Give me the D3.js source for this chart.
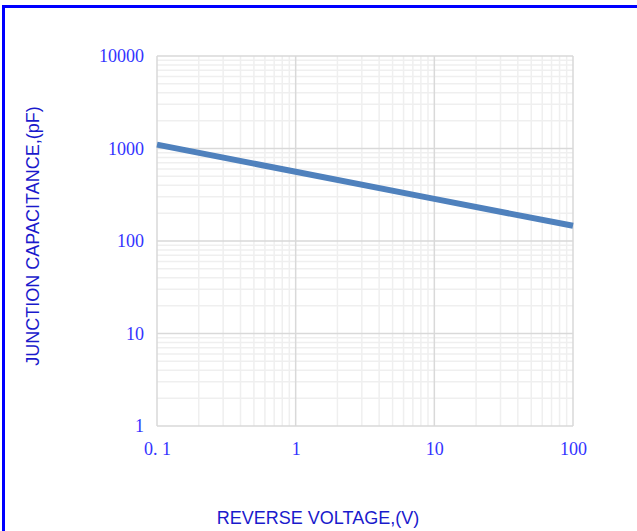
<!DOCTYPE html>
<html>
<head>
<meta charset="utf-8">
<script src="https://cdn.jsdelivr.net/npm/d3@7"></script>
<style>
  html, body { margin: 0; padding: 0; background: #fff; }
  svg { display: block; }
</style>
</head>
<body>
<div id="chart"></div>
<script>
  'use strict';

  // reverse voltage (V) and junction capacitance (pF)
  var voltage = [0.1, 1, 10, 100];
  var capacitance = [1100, 560, 285, 146];
  var x_ticks = [0.1, 1, 10, 100];
  var x_tick_labels = ['0. 1', '1', '10', '100'];
  var y_ticks = [1, 10, 100, 1000, 10000];
  var y_tick_labels = ['1', '10', '100', '1000', '10000'];

  var svg_width = 637;
  var svg_height = 531;
  var margin = { left: 157, right: 64, top: 56, bottom: 105 };
  var plot_w = svg_width - margin.left - margin.right;
  var plot_h = svg_height - margin.top - margin.bottom;

  var svg = d3.select('#chart').append('svg')
    .attr('width', svg_width)
    .attr('height', svg_height);

  // blue frame (top and left only)
  svg.append('path')
    .attr('d', 'M3.5,' + svg_height + 'V6.5H' + svg_width)
    .attr('fill', 'none')
    .attr('stroke', '#0000ff')
    .attr('stroke-width', 3);

  var x = d3.scaleLog().domain([0.1, 100]).range([0, plot_w]);
  var y = d3.scaleLog().domain([1, 10000]).range([plot_h, 0]);

  var g = svg.append('g')
    .attr('transform', 'translate(' + margin.left + ',' + margin.top + ')');

  function minors(domain) {
    var out = [];
    var lo = Math.log10(domain[0]), hi = Math.log10(domain[1]);
    for (var e = lo; e < hi; e++) {
      for (var k = 2; k <= 9; k++) out.push(k * Math.pow(10, e));
    }
    return out;
  }

  // minor grid
  g.append('g').selectAll('line')
    .data(minors(x.domain()))
    .enter().append('line')
    .attr('x1', function(d) { return x(d); })
    .attr('x2', function(d) { return x(d); })
    .attr('y1', 0).attr('y2', plot_h)
    .attr('stroke', '#efefef').attr('stroke-width', 1.5);

  g.append('g').selectAll('line')
    .data(minors(y.domain()))
    .enter().append('line')
    .attr('y1', function(d) { return y(d); })
    .attr('y2', function(d) { return y(d); })
    .attr('x1', 0).attr('x2', plot_w)
    .attr('stroke', '#efefef').attr('stroke-width', 1.5);

  // major grid
  g.append('g').selectAll('line')
    .data(x_ticks)
    .enter().append('line')
    .attr('x1', function(d) { return x(d); })
    .attr('x2', function(d) { return x(d); })
    .attr('y1', 0).attr('y2', plot_h)
    .attr('stroke', '#d9d9d9').attr('stroke-width', 1.5);

  g.append('g').selectAll('line')
    .data(y_ticks)
    .enter().append('line')
    .attr('y1', function(d) { return y(d); })
    .attr('y2', function(d) { return y(d); })
    .attr('x1', 0).attr('x2', plot_w)
    .attr('stroke', '#d9d9d9').attr('stroke-width', 1.5);

  // axes (labels only)
  var x_axis = d3.axisBottom(x)
    .tickValues(x_ticks)
    .tickSize(0)
    .tickPadding(16)
    .tickFormat(function(d, i) { return x_tick_labels[i]; });

  var y_axis = d3.axisLeft(y)
    .tickValues(y_ticks)
    .tickSize(0)
    .tickPadding(13)
    .tickFormat(function(d, i) { return y_tick_labels[i]; });

  var gx = g.append('g')
    .attr('transform', 'translate(0,' + plot_h + ')')
    .call(x_axis);
  var gy = g.append('g').call(y_axis);

  [gx, gy].forEach(function(a) {
    a.select('.domain').remove();
    a.selectAll('text')
      .attr('fill', '#3333ff')
      .style('font-family', '"Liberation Serif", "DejaVu Serif", serif')
      .style('font-size', '18px');
  });
  gy.selectAll('text').attr('dy', '0.32em');

  // series
  var line = d3.line()
    .x(function(d, i) { return x(voltage[i]); })
    .y(function(d) { return y(d); });

  g.append('path')
    .datum(capacitance)
    .attr('d', line)
    .attr('fill', 'none')
    .attr('stroke', '#4f81bd')
    .attr('stroke-width', 6);

  // axis titles
  svg.append('text')
    .attr('x', 318)
    .attr('y', 524)
    .attr('text-anchor', 'middle')
    .attr('fill', '#1a1acc')
    .style('font-family', '"Liberation Sans", Arial, sans-serif')
    .style('font-size', '18px')
    .text('REVERSE VOLTAGE,(V)');

  svg.append('text')
    .attr('transform', 'translate(39,236) rotate(-90)')
    .attr('text-anchor', 'middle')
    .attr('fill', '#1a1acc')
    .style('font-family', '"Liberation Sans", Arial, sans-serif')
    .style('font-size', '18px')
    .text('JUNCTION CAPACITANCE,(pF)');
</script>
</body>
</html>
